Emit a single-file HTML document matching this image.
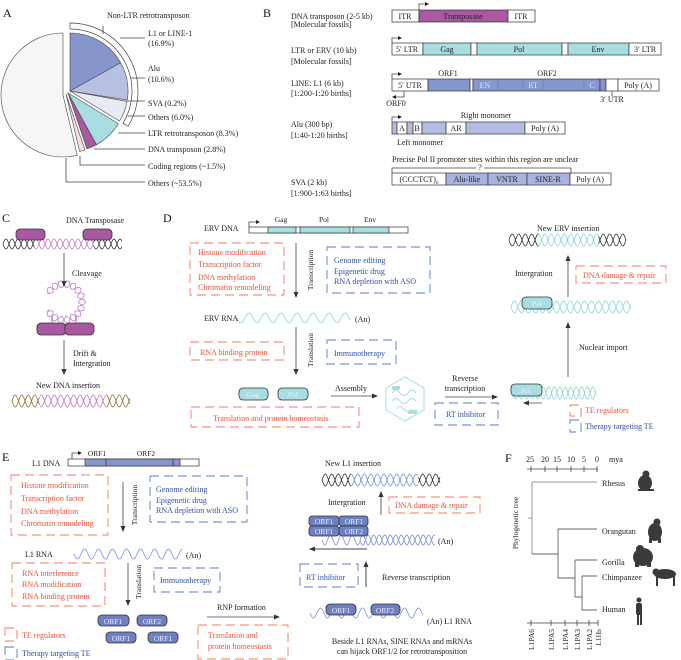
<!DOCTYPE html>
<html><head><meta charset="utf-8"><style>
html,body{margin:0;padding:0;background:#fff}
svg{display:block;font-family:"Liberation Serif",serif}
.t{font-size:8px;fill:#222}
.r{font-size:8px;fill:#e8533b}
.b{font-size:8px;fill:#2f4fa8}
.s{font-size:7.5px;fill:#222}
.L{font-size:12px;fill:#111}
.rb{fill:none;stroke:#ef7a66;stroke-width:0.9;stroke-dasharray:9 5}
.bb{fill:none;stroke:#5a78c4;stroke-width:0.9;stroke-dasharray:9 5}
.ln{stroke:#444;stroke-width:0.8;fill:none}
.bx{stroke:#333;stroke-width:0.7}
</style></head><body>
<svg id="s" width="681" height="660" viewBox="0 0 681 660" xmlns="http://www.w3.org/2000/svg">
<defs><marker id="ar" markerWidth="6" markerHeight="6" refX="5" refY="3" orient="auto" markerUnits="userSpaceOnUse"><path d="M0,0.5 L6,3 L0,5.5 z" fill="#333"/></marker></defs>
<g id="dyn"></g>

<!-- A -->
<text class="L" x="3" y="17">A</text>
<text class="t" x="107" y="18">Non-LTR retrotransposon</text>
<text class="t" x="148" y="36">L1 or LINE-1</text>
<text class="t" x="148" y="46">(16.9%)</text>
<text class="t" x="148" y="71">Alu</text>
<text class="t" x="148" y="82">(10.6%)</text>
<text class="t" x="148" y="106">SVA (0.2%)</text>
<text class="t" x="148" y="120">Others (6.0%)</text>
<text class="t" x="148" y="136">LTR retrotransposon (8.3%)</text>
<text class="t" x="148" y="152">DNA transposon (2.8%)</text>
<text class="t" x="148" y="169">Coding regions (~1.5%)</text>
<text class="t" x="148" y="186">Others (~53.5%)</text>
<path class="ln" d="M120,38H145 M130,78H145 M128,101H145 M128,116H145 M118,133H145 M94,149H145 M80,156V165H145 M66,158V182H145 M103,26V34"/>

<!-- B -->
<text class="L" x="263" y="17">B</text>
<text class="t" x="291" y="19">DNA transposon (2-5 kb)</text>
<text class="t" x="291" y="27">[Molecular fossils]</text>
<text class="t" x="291" y="53">LTR or ERV (10 kb)</text>
<text class="t" x="291" y="64">[Molecular fossils]</text>
<text class="t" x="291" y="86">LINE: L1 (6 kb)</text>
<text class="t" x="291" y="96">[1:200-1:20 births]</text>
<text class="t" x="291" y="127">Alu (300 bp)</text>
<text class="t" x="291" y="138">[1:40-1:20 births]</text>
<text class="t" x="291" y="185">SVA (2 kb)</text>
<text class="t" x="291" y="196">[1:900-1:63 births]</text>

<g class="bx">
<rect x="392" y="10" width="27" height="12" fill="#fff"/><rect x="419" y="10" width="89" height="12" fill="#a9599f"/><rect x="508" y="10" width="27" height="12" fill="#fff"/>
<rect x="392" y="43" width="31" height="12" fill="#fff"/><rect x="423" y="43" width="48" height="12" fill="#a8dde2"/><rect x="471" y="43" width="6" height="12" fill="#fff"/><rect x="477" y="43" width="85" height="12" fill="#a8dde2"/><rect x="562" y="43" width="6" height="12" fill="#fff"/><rect x="568" y="43" width="61" height="12" fill="#a8dde2"/><rect x="629" y="43" width="32" height="12" fill="#fff"/>
<rect x="392" y="79" width="36" height="12" fill="#fff"/><rect x="428" y="79" width="42" height="12" fill="#8796cc"/><rect x="470" y="79" width="3" height="12" fill="#fff"/><rect x="473" y="79" width="127" height="12" fill="#8796cc"/><rect x="600" y="79" width="6" height="12" fill="#8796cc"/><rect x="606" y="79" width="12" height="12" fill="#fff"/><rect x="618" y="79" width="41" height="12" fill="#fff"/>
<rect x="392" y="122" width="5" height="12" fill="#b3bce3"/><rect x="397" y="122" width="10" height="12" fill="#fff"/><rect x="407" y="122" width="6" height="12" fill="#b3bce3"/><rect x="413" y="122" width="9" height="12" fill="#fff"/><rect x="422" y="122" width="24" height="12" fill="#b3bce3"/><rect x="446" y="122" width="20" height="12" fill="#fff"/><rect x="466" y="122" width="59" height="12" fill="#b3bce3"/><rect x="525" y="122" width="40" height="12" fill="#fff"/>
<rect x="392" y="173" width="54" height="12" fill="#fff"/><rect x="446" y="173" width="42" height="12" fill="#aab3e0"/><rect x="488" y="173" width="39" height="12" fill="#aab3e0"/><rect x="527" y="173" width="43" height="12" fill="#aab3e0"/><rect x="570" y="173" width="41" height="12" fill="#fff"/>
</g>
<path d="M498,79V91 M523,79V91 M543,79V91 M584,79V91" stroke="#6a78b8" stroke-width="0.6"/>
<g class="t" text-anchor="middle">
<text x="405" y="19">ITR</text><text x="463" y="19">Transposase</text><text x="521" y="19">ITR</text>
<text x="407" y="52">5′ LTR</text><text x="447" y="52">Gag</text><text x="519" y="52">Pol</text><text x="598" y="52">Env</text><text x="645" y="52">3′ LTR</text>
<text x="410" y="88">5′ UTR</text><text x="638" y="88">Poly (A)</text>
<text x="448" y="76">ORF1</text><text x="547" y="76">ORF2</text>
<text x="396" y="106">ORF0</text><text x="612" y="102">3′ UTR</text>
<text x="402" y="131">A</text><text x="417" y="131">B</text><text x="456" y="131">AR</text><text x="545" y="131">Poly (A)</text>
<text x="486" y="118">Right monomer</text><text x="420" y="145">Left monomer</text>
<text x="419" y="182">(CCCTCT)<tspan font-size="5" dy="2">n</tspan></text><text x="467" y="182">Alu-like</text><text x="507" y="182">VNTR</text><text x="548" y="182">SINE-R</text><text x="590" y="182">Poly (A)</text>
<text x="480" y="170">?</text>
</g>
<g font-size="8" fill="#dfe4f5" text-anchor="middle"><text x="485" y="88">EN</text><text x="533" y="88">RT</text><text x="592" y="88">C</text></g>
<text class="t" x="392" y="162">Precise Pol II promoter sites within this region are unclear</text>
<path class="ln" d="M392,173V168H476 M484,168H571V173 M612,91V96"/>
<path class="ln" d="M419,10V4H425 M392,43V38H398 M392,79V74H398 M404,91V97H396 M392,122V117H398" />
<path d="M425,2L429,4L425,6z M398,36L402,38L398,40z M398,72L402,74L398,76z M396,95L392,97L396,99z M398,115L402,117L398,119z" fill="#222"/>

<!-- C -->
<text class="L" x="2" y="222">C</text>
<text class="t" x="66" y="223">DNA Transposase</text>
<rect x="16" y="229" width="29" height="11" rx="4" fill="#a9599f" stroke="#333" stroke-width="0.8"/>
<rect x="83" y="229" width="29" height="11" rx="4" fill="#a9599f" stroke="#333" stroke-width="0.8"/>
<line x1="64" y1="253" x2="64" y2="286" class="ln" marker-end="url(#ar)"/>
<text class="t" x="72" y="276">Cleavage</text>
<rect x="37" y="323" width="29" height="12" rx="4" fill="#a9599f" stroke="#333" stroke-width="0.8"/>
<rect x="65" y="323" width="29" height="12" rx="4" fill="#a9599f" stroke="#333" stroke-width="0.8"/>
<line x1="64" y1="340" x2="64" y2="374" class="ln" marker-end="url(#ar)"/>
<text class="t" x="73" y="356">Drift &amp;</text>
<text class="t" x="73" y="366">Intergration</text>
<text class="t" x="36" y="388">New DNA insertion</text>

<!-- D -->
<text class="L" x="163" y="222">D</text>
<text class="t" x="204" y="231">ERV DNA</text>
<g class="bx"><rect x="249" y="227" width="159" height="6" fill="#fff"/><rect x="268" y="227" width="28" height="6" fill="#a8dde2"/><rect x="300" y="227" width="50" height="6" fill="#a8dde2"/><rect x="353" y="227" width="36" height="6" fill="#a8dde2"/></g>
<path class="ln" d="M249,227V222H256"/><path d="M256,220L260,222L256,224z" fill="#222"/>
<g class="s" text-anchor="middle"><text x="281" y="222">Gag</text><text x="324" y="222">Pol</text><text x="370" y="222">Env</text></g>
<rect class="rb" x="190" y="243" width="94" height="52"/>
<text class="r" x="198" y="255">Histone modification</text><text class="r" x="198" y="267">Transcription factor</text><text class="r" x="198" y="280">DNA methylation</text><text class="r" x="198" y="290">Chromatin remodeling</text>
<line class="ln" x1="296" y1="243" x2="296" y2="297" marker-end="url(#ar)"/>
<text class="s" transform="translate(313,270) rotate(-90)" text-anchor="middle">Transcription</text>
<rect class="bb" x="327" y="247" width="103" height="46"/>
<text class="b" x="334" y="263">Genome editing</text><text class="b" x="334" y="274">Epigenetic drug</text><text class="b" x="334" y="284">RNA depletion with ASO</text>
<text class="t" x="204" y="321">ERV RNA</text><text class="t" x="355" y="322">(An)</text>
<line class="ln" x1="296" y1="327" x2="296" y2="374" marker-end="url(#ar)"/>
<text class="s" transform="translate(313,350) rotate(-90)" text-anchor="middle">Translation</text>
<rect class="rb" x="190" y="342" width="94" height="18"/><text class="r" x="200" y="355">RNA binding protein</text>
<rect class="bb" x="327" y="340" width="69" height="24"/><text class="b" x="334" y="356">Immunotherapy</text>
<rect x="239" y="388" width="29" height="12" rx="4" fill="#a8dde2" stroke="#333" stroke-width="0.8"/><text x="253" y="397" font-size="7.5" fill="#eef" text-anchor="middle">Gag</text>
<rect x="278" y="388" width="30" height="12" rx="4" fill="#a8dde2" stroke="#333" stroke-width="0.8"/><text x="293" y="397" font-size="7.5" fill="#eef" text-anchor="middle">Pol</text>
<rect class="rb" x="191" y="407" width="168" height="20"/><text class="r" x="213" y="421">Translation and protein homeostasis</text>
<text class="t" x="335" y="391">Assembly</text><line class="ln" x1="331" y1="396" x2="377" y2="396" marker-end="url(#ar)"/>
<polygon points="405,377 424,388 424,410 405,421 386,410 386,388" fill="none" stroke="#a8dde2" stroke-width="1"/>
<path d="M392,393 q4,-5 8,0 t8,0 t8,0 M392,401 q4,-5 8,0 t8,0 t8,0 M396,409 q4,-5 8,0 t8,0" fill="none" stroke="#8fd3d8" stroke-width="0.8"/>
<rect x="392" y="386" width="8" height="4" rx="1" fill="#a8dde2"/><rect x="408" y="410" width="9" height="4" rx="1" fill="#a8dde2"/>
<text class="t" x="465" y="381" text-anchor="middle">Reverse</text><text class="t" x="465" y="391" text-anchor="middle">transcription</text>
<line class="ln" x1="445" y1="397" x2="497" y2="397" marker-end="url(#ar)"/>
<rect class="bb" x="435" y="403" width="63" height="22"/><text class="b" x="446" y="417">RT inhibitor</text>
<line class="ln" x1="542" y1="403" x2="524" y2="403" marker-end="url(#ar)"/>
<rect class="rb" x="570" y="405" width="11" height="11" stroke-dasharray="5 3"/><text class="r" x="585" y="413">TE regulators</text>
<rect class="bb" x="570" y="420" width="11" height="12" stroke-dasharray="5 3"/><text class="b" x="585" y="429">Therapy targeting TE</text>
<line class="ln" x1="568" y1="377" x2="568" y2="323" marker-end="url(#ar)"/><text class="t" x="579" y="350">Nuclear import</text>
<line class="ln" x1="568" y1="297" x2="568" y2="256" marker-end="url(#ar)"/><text class="t" x="515" y="276">Intergration</text>
<rect class="rb" x="576" y="266" width="90" height="17"/><text class="r" x="583" y="278">DNA damage &amp; repair</text>
<text class="t" x="537" y="231">New ERV insertion</text>

<!-- E -->
<text class="L" x="2" y="461">E</text>
<text class="t" x="32" y="466">L1 DNA</text>
<g class="bx"><rect x="68" y="459" width="131" height="7" fill="#fff"/><rect x="85" y="459" width="95" height="7" fill="#8796cc"/></g>
<path d="M106,459V466 M173,459V466" stroke="#333" stroke-width="0.7"/>
<path class="ln" d="M72,459V453H78"/><path d="M78,451L82,453L78,455z" fill="#222"/>
<text class="s" x="97" y="456" text-anchor="middle">ORF1</text><text class="s" x="146" y="456" text-anchor="middle">ORF2</text>
<rect class="rb" x="11" y="475" width="97" height="60"/>
<text class="r" x="21" y="488">Histone modification</text><text class="r" x="21" y="501">Transcription factor</text><text class="r" x="21" y="514">DNA methylation</text><text class="r" x="21" y="526">Chromatin remodeling</text>
<line class="ln" x1="123" y1="482" x2="123" y2="531" marker-end="url(#ar)"/>
<text class="s" transform="translate(137,505) rotate(-90)" text-anchor="middle">Transcription</text>
<rect class="bb" x="150" y="476" width="97" height="46"/>
<text class="b" x="156" y="492">Genome editing</text><text class="b" x="156" y="503">Epigenetic drug</text><text class="b" x="156" y="513">RNA depletion with ASO</text>
<text class="t" x="25" y="557">L1 RNA</text><text class="t" x="186" y="558">(An)</text>
<rect class="rb" x="12" y="563" width="93" height="43"/>
<text class="r" x="22" y="576">RNA interference</text><text class="r" x="22" y="587">RNA modification</text><text class="r" x="22" y="599">RNA binding protein</text>
<line class="ln" x1="128" y1="563" x2="128" y2="605" marker-end="url(#ar)"/>
<text class="s" transform="translate(141,582) rotate(-90)" text-anchor="middle">Translation</text>
<rect class="bb" x="154" y="568" width="66" height="24"/><text class="b" x="160" y="583">Immunotherapy</text>
<g font-size="7.5" fill="#eef" text-anchor="middle">
<rect x="98" y="615" width="31" height="11" rx="4" fill="#6f80c2" stroke="#333" stroke-width="0.8"/><text x="113" y="624">ORF1</text>
<rect x="137" y="615" width="30" height="11" rx="4" fill="#6f80c2" stroke="#333" stroke-width="0.8"/><text x="152" y="624">ORF2</text>
<rect x="106" y="632" width="30" height="11" rx="4" fill="#6f80c2" stroke="#333" stroke-width="0.8"/><text x="121" y="641">ORF1</text>
<rect x="148" y="632" width="30" height="11" rx="4" fill="#6f80c2" stroke="#333" stroke-width="0.8"/><text x="163" y="641">ORF1</text>
<rect x="309" y="516" width="30" height="10" rx="3" fill="#6f80c2" stroke="#333" stroke-width="0.8"/><text x="324" y="524">ORF1</text>
<rect x="339" y="516" width="29" height="10" rx="3" fill="#6f80c2" stroke="#333" stroke-width="0.8"/><text x="354" y="524">ORF1</text>
<rect x="309" y="526" width="30" height="10" rx="3" fill="#6f80c2" stroke="#333" stroke-width="0.8"/><text x="324" y="534">ORF1</text>
<rect x="339" y="526" width="29" height="10" rx="3" fill="#6f80c2" stroke="#333" stroke-width="0.8"/><text x="354" y="534">ORF2</text>
</g>
<rect class="rb" x="5" y="628" width="12" height="13" stroke-dasharray="5 3"/><text class="r" x="22" y="638">TE regulators</text>
<rect class="bb" x="5" y="647" width="12" height="13" stroke-dasharray="5 3"/><text class="b" x="22" y="656">Therapy targeting TE</text>
<text class="t" x="217" y="610">RNP formation</text><line class="ln" x1="207" y1="617" x2="279" y2="617" marker-end="url(#ar)"/>
<rect class="rb" x="198" y="625" width="90" height="34"/><text class="r" x="208" y="638">Translation and</text><text class="r" x="208" y="649">protein homeostasis</text>
<text class="t" x="353" y="466" text-anchor="middle">New L1 insertion</text>
<text class="t" x="328" y="505">Intergration</text>
<line class="ln" x1="381" y1="515" x2="381" y2="492" marker-end="url(#ar)"/>
<rect class="rb" x="389" y="497" width="91" height="16"/><text class="r" x="395" y="508">DNA damage &amp; repair</text>
<text class="t" x="438" y="544">(An)</text>
<line x1="367" y1="549" x2="310" y2="549" stroke="#444" stroke-width="1" marker-end="url(#ar)"/>
<rect class="bb" x="300" y="564" width="58" height="23"/><text class="b" x="306" y="580">RT inhibitor</text>
<line x1="366" y1="587" x2="366" y2="562" stroke="#444" stroke-width="1" marker-end="url(#ar)"/>
<text class="t" x="382" y="580">Reverse transcription</text>
<text class="t" x="427" y="624">(An)  L1 RNA</text>
<text class="t" x="402" y="644" text-anchor="middle">Beside L1 RNAs, SINE RNAs and mRNAs</text>
<text class="t" x="402" y="654" text-anchor="middle">can hijack ORF1/2 for retrotransposition</text>

<!-- F -->
<text class="L" x="505" y="462">F</text>
<g class="t" text-anchor="middle"><text x="530" y="462">25</text><text x="545" y="462">20</text><text x="557" y="462">15</text><text x="571" y="462">10</text><text x="584" y="462">5</text><text x="597" y="462">0</text></g>
<text class="t" x="609" y="462">mya</text>
<path class="ln" d="M527,469H598 M531,466V472 M545,466V472 M557,466V472 M571,466V472 M584,466V472 M597,466V472"/>
<path d="M532,482V554 M532,482H597 M528,518H532" stroke="#999" stroke-width="1" fill="none"/>
<path d="M532,554H558 M558,529V578 M558,529H597 M558,578H575 M575,560V597 M575,560H597 M575,597H582 M582,576V610 M582,576H597 M582,610H597" stroke="#666" stroke-width="0.9" fill="none"/>
<g class="t"><text x="602" y="486">Rhesus</text><text x="602" y="534">Orangutan</text><text x="602" y="565">Gorilla</text><text x="602" y="580">Chimpanzee</text><text x="602" y="612">Human</text></g>
<text class="s" transform="translate(518,523) rotate(-90)" text-anchor="middle" fill="#444">Phylogenetic tree</text>
<path class="ln" d="M527,623H598 M531,620V626 M551,620V626 M565,620V626 M577,620V626 M589,620V626 M598,620V626"/>
<g class="s" text-anchor="end">
<text transform="translate(534,629) rotate(-90)">L1PA6</text><text transform="translate(554,629) rotate(-90)">L1PA5</text><text transform="translate(568,629) rotate(-90)">L1PA4</text><text transform="translate(580,629) rotate(-90)">L1PA3</text><text transform="translate(592,629) rotate(-90)">L1PA2</text><text transform="translate(601,629) rotate(-90)">L1Hs</text>
</g>
<g fill="#3a3a3a">
<ellipse cx="645" cy="483" rx="7" ry="8"/><circle cx="646" cy="474" r="3.5"/><rect x="638" y="489" width="16" height="2"/>
<ellipse cx="655" cy="532" rx="7" ry="9"/><circle cx="657" cy="522" r="3.5"/><rect x="649" y="538" width="3" height="5"/><rect x="658" y="538" width="3" height="5"/>
<ellipse cx="643" cy="557" rx="10" ry="9"/><circle cx="640" cy="549" r="4"/><rect x="635" y="562" width="4" height="5"/><rect x="647" y="562" width="4" height="5"/>
<ellipse cx="665" cy="574" rx="11" ry="5"/><circle cx="656" cy="572" r="3.5"/><rect x="656" y="576" width="2" height="10"/><rect x="673" y="576" width="2" height="10"/>
<circle cx="639" cy="600" r="2.5"/><rect x="636" y="603" width="6" height="12" rx="2"/><rect x="637" y="614" width="2" height="11"/><rect x="640" y="614" width="2" height="11"/>
</g>
<g id="top"></g>
</svg>
<script>
(function(){
var NS="http://www.w3.org/2000/svg",g=document.getElementById("dyn"),top=document.getElementById("top");
function el(t,a,p){var e=document.createElementNS(NS,t);for(var k in a)e.setAttribute(k,a[k]);(p||g).appendChild(e);return e;}
function strand(x1,x2,yc,amp,per,ph,col,w){
  var step=0.5,cur=null,d="",x;
  for(x=x1;x<=x2;x+=step){var c=col(x),y=yc+amp*Math.sin((x-x1)/per*2*Math.PI+ph);
    if(c!==cur){if(d)el("path",{d:d,stroke:cur,"stroke-width":w||0.8,fill:"none"});cur=c;d="M"+x.toFixed(1)+","+y.toFixed(2);}else d+="L"+x.toFixed(1)+","+y.toFixed(2);}
  if(d)el("path",{d:d,stroke:cur,"stroke-width":w||0.8,fill:"none"});}
function helix(x1,x2,yc,amp,per,col){strand(x1,x2,yc,amp,per,0,col);strand(x1,x2,yc,amp,per,Math.PI,col);}
function seg(a,b,c1,c2){return function(x){return (x<a||x>b)?c1:c2;};}
helix(3,122,244,5,12,seg(35,93,"#333","#c07ac8"));
helix(12,130,401,6,13,seg(40,105,"#8b7636","#c07ac8"));
(function(){var cx=64,cy=302,R=18,a=3.5,n=9;for(var s=0;s<2;s++){var d="";for(var i=0;i<=200;i++){var t=-Math.PI*0.35+i/200*Math.PI*1.7,r=R+(s?1:-1)*a*Math.sin(n*t);var x=cx+r*Math.sin(t),y=cy-r*Math.cos(t);d+=(i?"L":"M")+x.toFixed(1)+","+y.toFixed(1);}el("path",{d:d,stroke:"#c07ac8","stroke-width":0.8,fill:"none"});}
el("path",{d:"M52,315 Q50,320 53,323 M76,315 Q78,320 75,323",stroke:"#c07ac8","stroke-width":0.8,fill:"none"});})();
strand(237,350,318,5,16,0,function(){return "#8fd3d8";});
helix(513,596,393,6,11,function(){return "#8fd3d8";});
helix(511,631,307,6,14,function(){return "#8fd3d8";});
helix(509,626,240,6,13,seg(539,598,"#333","#8fd3d8"));
strand(74,182,554,5,14,0,function(){return "#7d8fd6";});
helix(322,440,480,6,13,seg(352,418,"#333","#7d8fd6"));
strand(322,360,540,5,11,0,function(){return "#7d8fd6";});
helix(360,435,540,5,11,function(){return "#7d8fd6";});
strand(310,423,613,5,14,0,function(){return "#7d8fd6";});
// Pol pills on top of helices
el("rect",{x:522,y:297,width:30,height:12,rx:4,fill:"#a8dde2",stroke:"#333","stroke-width":0.8},top);
el("rect",{x:511,y:384,width:31,height:12,rx:4,fill:"#a8dde2",stroke:"#333","stroke-width":0.8},top);
el("rect",{x:326,y:604,width:30,height:11,rx:4,fill:"#6f80c2",stroke:"#333","stroke-width":0.8},top);
el("rect",{x:371,y:604,width:29,height:11,rx:4,fill:"#6f80c2",stroke:"#333","stroke-width":0.8},top);
function tx(x,y,s){var e=el("text",{x:x,y:y,"font-size":"7.5",fill:"#eef","text-anchor":"middle"},top);e.textContent=s;}
tx(537,306,"Pol");tx(526,393,"Pol");tx(341,613,"ORF1");tx(385,613,"ORF2");
function wedge(cx,cy,r,f0,f1,fill){var a0=f0*2*Math.PI,a1=f1*2*Math.PI;var x0=cx+r*Math.sin(a0),y0=cy-r*Math.cos(a0),x1=cx+r*Math.sin(a1),y1=cy-r*Math.cos(a1);
 el("path",{d:"M"+cx+","+cy+"L"+x0.toFixed(2)+","+y0.toFixed(2)+"A"+r+","+r+" 0 "+((f1-f0)>0.5?1:0)+" 1 "+x1.toFixed(2)+","+y1.toFixed(2)+"Z",fill:fill,stroke:"#444","stroke-width":0.6});}
wedge(63,95,62,0.463,1.0,"#f6f6f6");
wedge(66,94,59,0.448,0.463,"#f6dde3");
wedge(68,93,59,0.337,0.420,"#a9dde1");
wedge(68,93,59,0.420,0.448,"#a9599f");
wedge(70,91,58,0,0.169,"#8796cc");
wedge(70,91,58,0.169,0.275,"#b7bfe3");
wedge(70,91,58,0.275,0.279,"#f0f0f0");
wedge(70,91,58,0.279,0.337,"#e6ebf6");
(function(){var cx=70,cy=91,ri=62,ro=68,f1=0.337,a1=f1*2*Math.PI;
var p="M"+cx+","+(cy-ro)+"A"+ro+","+ro+" 0 0 1 "+(cx+ro*Math.sin(a1)).toFixed(1)+","+(cy-ro*Math.cos(a1)).toFixed(1)+"L"+(cx+ri*Math.sin(a1)).toFixed(1)+","+(cy-ri*Math.cos(a1)).toFixed(1)+"A"+ri+","+ri+" 0 0 0 "+cx+","+(cy-ri)+"Z";
el("path",{d:p,fill:"#fff",stroke:"#444","stroke-width":0.7});})();
})();
</script>
</body></html>
